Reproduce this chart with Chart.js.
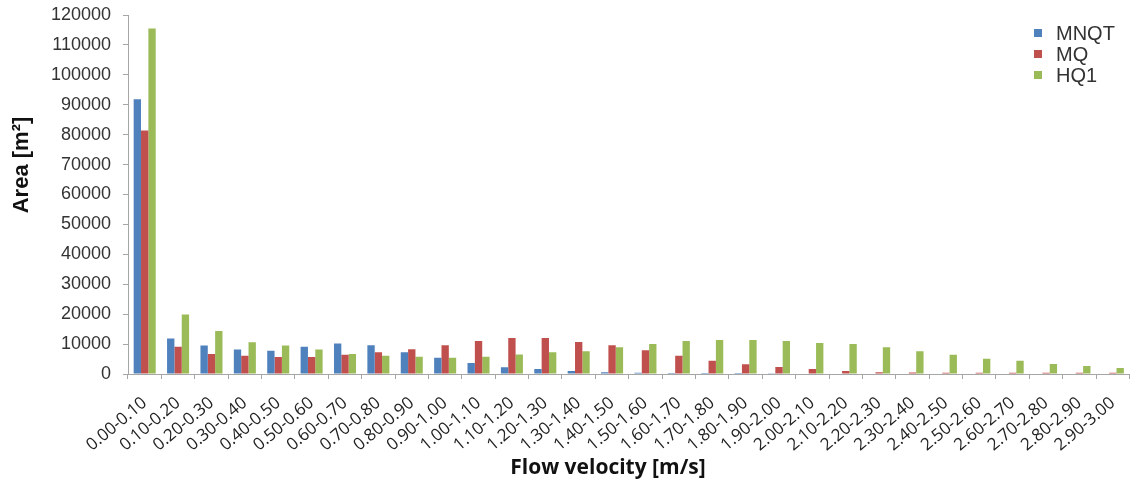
<!DOCTYPE html>
<html>
<head>
<meta charset="utf-8">
<script src="https://cdn.jsdelivr.net/npm/chart.js@4/dist/chart.umd.min.js"></script>
<style>
    html, body { margin: 0; padding: 0; background: #fff; }
    #wrap { width: 1140px; height: 486px; position: relative; }
</style>
</head>
<body>
<div id="wrap"><canvas id="chart"></canvas></div>
<script>
// Flow velocity classes (x axis)
const velocityClasses = [
    '0.00-0.10', '0.10-0.20', '0.20-0.30', '0.30-0.40', '0.40-0.50',
    '0.50-0.60', '0.60-0.70', '0.70-0.80', '0.80-0.90', '0.90-1.00',
    '1.00-1.10', '1.10-1.20', '1.20-1.30', '1.30-1.40', '1.40-1.50',
    '1.50-1.60', '1.60-1.70', '1.70-1.80', '1.80-1.90', '1.90-2.00',
    '2.00-2.10', '2.10-2.20', '2.20-2.30', '2.30-2.40', '2.40-2.50',
    '2.50-2.60', '2.60-2.70', '2.70-2.80', '2.80-2.90', '2.90-3.00'
];

// Area per class [m2]
const mnqt = [91800, 11900, 9500, 8200, 7800, 9100, 10200, 9600, 7250, 5450,
              3700, 2250, 1650, 1000, 600, 400, 300, 300, 300, 100,
              0, 0, 0, 0, 0, 0, 0, 0, 0, 0];
const mq   = [81400, 9100, 6700, 6100, 5700, 5700, 6400, 7250, 8250, 9600,
              11000, 12000, 12000, 10700, 9600, 7900, 6100, 4450, 3300, 2300,
              1650, 1000, 600, 500, 400, 400, 400, 400, 400, 400];
const hq1  = [115500, 19900, 14400, 10600, 9500, 8200, 6700, 6100, 5800, 5450,
              5800, 6550, 7250, 7600, 8900, 10000, 11000, 11350, 11350, 11000,
              10350, 10000, 8900, 7600, 6450, 5100, 4450, 3350, 2650, 2000];

const yTicks = { min: 0, max: 120000, step: 10000 };
const yTitle = 'Area [m²]';
const xTitle = 'Flow velocity [m/s]';

// Legend inside the plot area (top right) and both axis titles, drawn by hand
const extras = {
    id: 'extras',
    afterDraw: (chart) => {
        const { ctx } = chart;
        ctx.save();
        ctx.font = '20px "Liberation Sans", Arial, sans-serif';
        ctx.textBaseline = 'middle';
        chart.data.datasets.forEach((ds, i) => {
            const y = 33 + i * 21;
            ctx.fillStyle = ds.backgroundColor;
            ctx.fillRect(1034, y - 4, 8, 8);
            ctx.fillStyle = '#333';
            ctx.fillText(ds.label, 1056, y + 1);
        });

        ctx.textAlign = 'center';
        ctx.fillStyle = '#111';
        ctx.font = 'bold 21px "Open Sans", sans-serif';
        ctx.fillText(xTitle, 608, 468);

        ctx.translate(22, 165);
        ctx.rotate(-Math.PI / 2);
        ctx.font = 'bold 22px "Liberation Sans", Arial, sans-serif';
        ctx.fillText(yTitle, 0, 0);
        ctx.restore();
    }
};

const ctx = document.getElementById('chart').getContext('2d');
const chart = new Chart(ctx, {
    type: 'bar',
    data: {
        labels: velocityClasses,
        datasets: [
            { label: 'MNQT', data: mnqt, backgroundColor: '#4F81BD' },
            { label: 'MQ', data: mq, backgroundColor: '#C0504D' },
            { label: 'HQ1', data: hq1, backgroundColor: '#9BBB59' },
        ],
    },
    options: {
        responsive: true,
        maintainAspectRatio: false,
        animation: false,
        layout: { padding: { top: 15, right: 3, left: 0, bottom: 0 } },
        datasets: {
            bar: { categoryPercentage: 0.66, barPercentage: 1.0 },
        },
        plugins: {
            legend: { display: false },
            tooltip: { enabled: false },
        },
        scales: {
            x: {
                grid: { display: true, drawOnChartArea: false, drawTicks: true, tickLength: 5, color: '#a6a6a6', offset: true },
                border: { color: '#a6a6a6' },
                ticks: {
                    color: '#222',
                    font: { family: '"Open Sans", sans-serif', size: 17 },
                    minRotation: 40,
                    maxRotation: 40,
                    autoSkip: false,
                    padding: 14,
                },
                title: { display: false },
                afterFit: (scale) => { scale.height = 112; },
            },
            y: {
                min: yTicks.min,
                max: yTicks.max,
                grid: { display: true, drawOnChartArea: false, drawTicks: true, tickLength: 5, color: '#a6a6a6' },
                border: { color: '#a6a6a6' },
                ticks: {
                    stepSize: yTicks.step,
                    color: '#333',
                    padding: 12,
                    font: { family: '"Liberation Sans", Arial, sans-serif', size: 18 },
                    callback: (v) => String(v),
                },
                title: { display: false },
                afterFit: (scale) => {
                    scale.width = 128;
                    scale.paddingTop = 0;
                    scale.paddingBottom = 0;
                },
            },
        },
    },
    plugins: [extras],
});
</script>
</body>
</html>
